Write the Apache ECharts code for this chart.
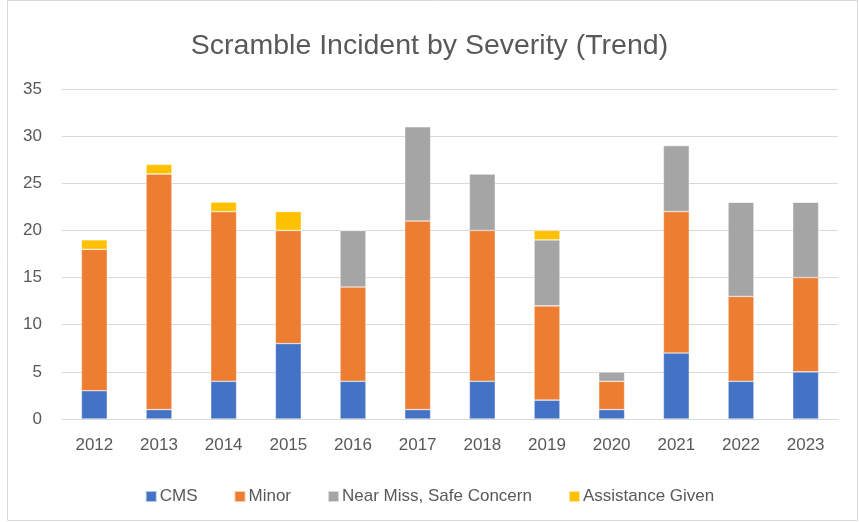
<!DOCTYPE html>
<html><head><meta charset="utf-8">
<script src="https://cdn.jsdelivr.net/npm/echarts@6/dist/echarts.min.js"></script>
<style>html,body{margin:0;padding:0;background:#fff}#c{width:859px;height:522px}</style>
</head><body><div id="c"></div>
<script>
const years = ['2012','2013','2014','2015','2016','2017','2018','2019','2020','2021','2022','2023'];
const cms = [3,1,4,8,4,1,4,2,1,7,4,5];
const minor = [15,25,18,12,10,20,16,10,3,15,9,10];
const nearMiss = [0,0,0,0,6,10,6,7,1,7,10,8];
const assistance = [1,1,1,2,0,0,0,1,0,0,0,0];
const yTicks = [0,5,10,15,20,25,30,35];

const font = 'Liberation Sans, Arial, sans-serif';
const chart = echarts.init(document.getElementById('c'));
const mk = (name, data, color) => ({
  name, type: 'bar', stack: 'total', data, barWidth: '40%',
  itemStyle: { color, borderColor: 'rgba(255,255,255,0.6)', borderWidth: 0.6 }
});
chart.setOption({
  animation: false,
  backgroundColor: '#fff',
  graphic: [{ type: 'rect', shape: { x: 7.5, y: 0.5, width: 850, height: 520 }, style: { fill: 'none', stroke: '#d9d9d9', lineWidth: 1 } }],
  title: { text: 'Scramble Incident by Severity (Trend)', left: 'center', top: 27,
    textStyle: { fontFamily: font, fontSize: 28.5, fontWeight: 'normal', color: '#595959' } },
  grid: { left: 62, right: 21, top: 89, bottom: 103 },
  legend: { top: 483, left: 'center', itemWidth: 11, itemHeight: 11, itemGap: 36, icon: 'rect',
    textStyle: { fontFamily: font, fontSize: 17, color: '#595959', padding: [0, 0, 0, -2] } },
  xAxis: { type: 'category', data: years,
    axisLine: { lineStyle: { color: '#d9d9d9' } }, axisTick: { show: false },
    axisLabel: { fontFamily: font, fontSize: 17, color: '#595959', margin: 18 } },
  yAxis: { type: 'value', min: 0, max: 35, interval: 5,
    axisLine: { show: false }, axisTick: { show: false },
    splitLine: { lineStyle: { color: '#d9d9d9', width: 1 } },
    axisLabel: { fontFamily: font, fontSize: 17, color: '#595959', margin: 20,
      formatter: v => yTicks.includes(v) ? String(v) : '' } },
  series: [
    mk('CMS', cms, '#4472c4'),
    mk('Minor', minor, '#ed7d31'),
    mk('Near Miss, Safe Concern', nearMiss, '#a5a5a5'),
    mk('Assistance Given', assistance, '#ffc000')
  ]
});
</script></body></html>
